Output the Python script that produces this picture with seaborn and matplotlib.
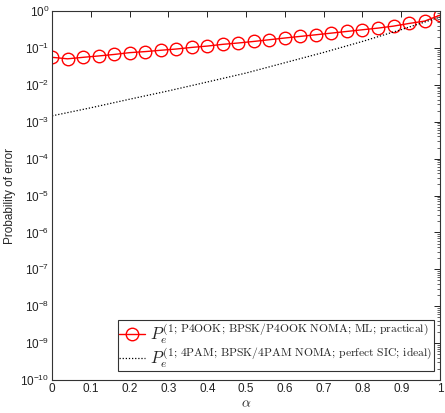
import numpy as np
import pandas as pd
import matplotlib
matplotlib.use("Agg")
import matplotlib.pyplot as plt
import seaborn as sns
from matplotlib.ticker import LogLocator, NullFormatter

alpha_ml = [0.00, 0.04, 0.08, 0.12, 0.16, 0.20, 0.24, 0.28, 0.32, 0.36, 0.40, 0.44, 0.48,
            0.52, 0.56, 0.60, 0.64, 0.68, 0.72, 0.76, 0.80, 0.84, 0.88, 0.92, 0.96, 1.00]
pe_ml = [0.056, 0.051, 0.056, 0.061, 0.067, 0.075, 0.080, 0.087, 0.094, 0.104, 0.113, 0.126, 0.137,
         0.151, 0.168, 0.187, 0.207, 0.229, 0.254, 0.282, 0.313, 0.347, 0.393, 0.464, 0.537, 0.78]

alpha_sic = [0.0, 0.1, 0.2, 0.3, 0.4, 0.5, 0.6, 0.7, 0.8, 0.9, 1.0]
pe_sic = [1.45e-3, 2.4e-3, 4.1e-3, 6.9e-3, 0.012, 0.021, 0.040, 0.076, 0.151, 0.316, 0.69]

label_ml = r"$P_e^{(1;\,\mathrm{P4OOK};\,\mathrm{BPSK/P4OOK\ NOMA};\,\mathrm{ML};\,\mathrm{practical})}$"
label_sic = r"$P_e^{(1;\,\mathrm{4PAM};\,\mathrm{BPSK/4PAM\ NOMA};\,\mathrm{perfect\ SIC};\,\mathrm{ideal})}$"

sns.set_theme(style="white")
plt.rcParams['font.family'] = ['Liberation Sans', 'DejaVu Sans']
plt.rcParams['mathtext.fontset'] = 'cm'

fig = plt.figure(figsize=(4.45, 4.13), dpi=100)
ax = fig.add_axes([0.117, 0.080, 0.872, 0.893])

df_ml = pd.DataFrame({"alpha": alpha_ml, "pe": pe_ml})
df_sic = pd.DataFrame({"alpha": alpha_sic, "pe": pe_sic})

sns.lineplot(data=df_ml, x="alpha", y="pe", ax=ax, color="red", lw=1.0,
             marker="o", markersize=9, markerfacecolor="none", markeredgecolor="red",
             markeredgewidth=1.0, label=label_ml)
sns.lineplot(data=df_sic, x="alpha", y="pe", ax=ax, color="black", lw=0.9,
             linestyle=(0, (1, 1.5)), label=label_sic)

ax.set_yscale("log")
ax.set_ylim(1e-10, 1)
ax.set_xlim(0, 1)
ax.set_xticks(np.arange(0, 1.01, 0.1))
ax.set_xticklabels(["0", "0.1", "0.2", "0.3", "0.4", "0.5", "0.6", "0.7", "0.8", "0.9", "1"])
ax.yaxis.set_major_locator(LogLocator(base=10, numticks=20))
ax.yaxis.set_minor_locator(LogLocator(base=10, subs=np.arange(2, 10), numticks=20))
ax.yaxis.set_minor_formatter(NullFormatter())

ax.tick_params(which="both", direction="in", top=True, right=True, labelsize=8.5, colors="#222222")
ax.tick_params(which="major", length=4, width=0.7, pad=2)
ax.tick_params(which="minor", length=2, width=0.5)
for s in ax.spines.values():
    s.set_color("#333333")
    s.set_linewidth(0.8)

ax.set_xlabel(r"$\alpha$", fontsize=10, labelpad=1)
ax.set_ylabel("Probability of error", fontsize=8.5, labelpad=3)

leg = ax.legend(loc="lower right", fontsize=12, frameon=True, fancybox=False,
                bbox_to_anchor=(0.983, 0.024), borderaxespad=0.0,
                handlelength=1.6, handletextpad=0.3,
                labelspacing=-0.05, borderpad=0.05)
leg.get_frame().set_edgecolor("black")
leg.get_frame().set_linewidth(0.8)

fig.savefig("out.png", dpi=100)
